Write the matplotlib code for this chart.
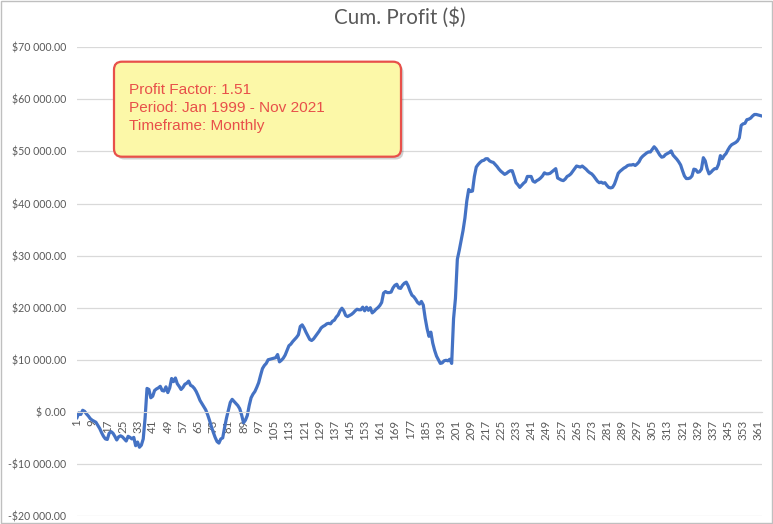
import numpy as np
import matplotlib.pyplot as plt
from matplotlib.patches import FancyBboxPatch, Rectangle
from matplotlib.ticker import FuncFormatter, MultipleLocator

# cumulative profit per trade, in thousands of dollars
cum_profit_k = [
    -1.1, -0.2, -0.5, 0.3, 0.1, -0.4, -0.8, -1.3, -1.6, -1.8,
    -2.0, -2.6, -3.2, -4.0, -4.7, -5.2, -5.3, -4.1, -3.8, -4.1,
    -4.7, -5.4, -4.8, -4.6, -4.8, -5.2, -5.6, -4.7, -4.9, -5.2,
    -4.9, -6.5, -5.8, -6.8, -6.4, -5.2, -1.1, 4.5, 4.3, 2.7,
    3.0, 4.1, 4.4, 4.6, 4.9, 4.1, 4.0, 4.8, 3.7, 4.6,
    6.4, 5.8, 6.5, 5.4, 4.9, 4.3, 4.7, 5.3, 5.5, 5.9,
    5.1, 4.9, 4.5, 3.9, 3.1, 2.2, 1.6, 1.0, 0.4, -0.5,
    -1.6, -2.8, -3.9, -4.9, -5.7, -6.0, -5.2, -5.0, -3.0, -1.2,
    0.3, 1.8, 2.4, 2.0, 1.6, 1.2, 0.6, -0.6, -2.1, -1.6,
    -0.7, 1.2, 2.7, 3.4, 3.9, 4.7, 5.6, 7.0, 8.3, 8.9,
    9.3, 10.0, 10.1, 10.2, 10.3, 10.4, 11.0, 9.6, 9.9, 10.3,
    10.9, 11.8, 12.7, 13.0, 13.5, 13.9, 14.3, 14.8, 16.4, 16.7,
    16.1, 15.3, 14.6, 13.9, 13.7, 14.0, 14.5, 15.0, 15.5, 16.1,
    16.4, 16.6, 16.9, 17.0, 16.9, 17.4, 17.6, 18.2, 18.6, 19.4,
    19.9, 19.4, 18.5, 18.3, 18.5, 18.7, 19.0, 19.4, 19.7, 19.6,
    19.6, 20.1, 19.4, 20.1, 19.5, 20.0, 19.0, 19.3, 19.7, 20.0,
    20.4, 21.0, 22.8, 23.1, 22.9, 22.9, 23.0, 23.8, 24.3, 24.5,
    23.8, 23.7, 24.3, 24.7, 24.9, 24.2, 23.2, 22.4, 22.1, 21.6,
    21.0, 20.7, 21.2, 20.5, 18.0, 16.0, 14.5, 15.3, 13.2, 11.8,
    10.7, 10.0, 9.3, 9.4, 9.8, 9.9, 9.8, 10.1, 9.3, 17.9,
    21.8, 29.3, 31.0, 32.9, 34.8, 37.2, 40.5, 42.7, 42.3, 42.4,
    45.2, 47.0, 47.5, 47.9, 48.2, 48.3, 48.6, 48.6, 48.2, 48.0,
    47.9, 47.5, 47.1, 46.6, 46.2, 45.9, 45.6, 45.8, 46.1, 46.3,
    46.3, 45.2, 44.0, 43.6, 43.1, 43.5, 43.9, 44.2, 45.2, 45.2,
    45.2, 44.3, 44.1, 44.4, 44.6, 44.9, 45.3, 45.9, 45.7, 45.7,
    45.8, 46.1, 46.4, 46.7, 44.9, 44.7, 44.5, 44.4, 44.7, 45.2,
    45.4, 45.7, 46.2, 46.7, 47.2, 47.1, 47.0, 47.2, 46.9, 46.6,
    46.2, 45.9, 45.7, 45.3, 44.8, 44.3, 44.0, 44.1, 43.9, 44.0,
    43.5, 43.1, 43.0, 43.1, 43.7, 44.7, 45.8, 46.2, 46.5, 46.8,
    47.0, 47.3, 47.4, 47.4, 47.5, 47.3, 47.6, 48.0, 48.7, 49.1,
    49.4, 49.7, 49.9, 49.9, 50.4, 50.9, 50.5, 49.9, 49.3, 48.9,
    49.0, 49.4, 49.6, 49.8, 50.1, 49.3, 48.9, 48.5, 48.0, 47.4,
    46.3, 45.3, 44.8, 44.8, 44.9, 45.3, 46.6, 46.5, 46.0, 46.1,
    46.6, 48.8, 48.2, 46.7, 45.7, 46.0, 46.4, 46.7, 46.7, 47.5,
    49.2, 48.6, 49.2, 49.6, 50.3, 50.9, 51.3, 51.5, 51.7, 52.0,
    52.6, 55.0, 55.3, 55.4, 56.1, 56.2, 56.4, 56.8, 57.1, 57.1,
    57.0, 56.9, 56.8,
]
cum_profit = np.array(cum_profit_k) * 1000
trade_no = np.arange(1, len(cum_profit) + 1)

title = "Cum. Profit ($)"
info_lines = ["Profit Factor: 1.51",
              "Period: Jan 1999 - Nov 2021",
              "Timeframe: Monthly"]

W, H = 773, 524
fig = plt.figure(figsize=(W / 100, H / 100), dpi=100)
ax = fig.add_axes([77 / W, 1 - 516 / H, (762 - 77) / W, (516 - 47.3) / H])

ax.plot(trade_no, cum_profit, color="#4472C4", lw=2.3, solid_joinstyle="round")

ax.set_xlim(trade_no[0], trade_no[-1])
ax.set_ylim(-20000, 70000)
ax.yaxis.set_major_locator(MultipleLocator(10000))
ax.set_xticks(trade_no[::8])


def money(v, pos):
    if abs(v) < 1e-6:
        return "$ 0.00"
    s = f"${abs(v):,.2f}".replace(",", " ")
    return "-" + s if v < 0 else s


ax.yaxis.set_major_formatter(FuncFormatter(money))
ax.grid(axis="y", color="#D9D9D9", lw=0.9)
ax.set_axisbelow(True)
for side in ["top", "right", "left"]:
    ax.spines[side].set_visible(False)
ax.spines["bottom"].set_position(("data", 0))
ax.spines["bottom"].set_color("#D9D9D9")
ax.tick_params(axis="both", length=0, colors="#595959")
ax.tick_params(axis="y", pad=8, labelsize=7.6)
ax.tick_params(axis="x", pad=5.5, labelsize=8.3, labelrotation=90)
for lab in ax.get_xticklabels() + ax.get_yticklabels():
    lab.set_fontfamily("Lato")

fig.text(400 / W, 1 - 18 / H, title, ha="center", va="center",
         fontsize=14.8, color="#595959", fontfamily="Lato")

# overlay in pixel units for the note box and chart border
ov = fig.add_axes([0, 0, 1, 1], zorder=5)
ov.set_xlim(0, W)
ov.set_ylim(H, 0)
ov.axis("off")
ov.patch.set_alpha(0)

shadow = FancyBboxPatch((116.5, 64.5), 287, 95, boxstyle="round,pad=0,rounding_size=8",
                        fc="#000000", ec="none", alpha=0.18)
ov.add_patch(shadow)
box = FancyBboxPatch((114, 61.7), 287, 95, boxstyle="round,pad=0,rounding_size=8",
                     fc="#FCF8A8", ec="#E8504A", lw=1.6)
ov.add_patch(box)
ov.text(129, 83, "\n".join(info_lines), ha="left", va="top", fontsize=11.1,
        color="#E8504A", fontfamily="Liberation Sans", linespacing=1.38)

ov.add_patch(Rectangle((1, 0.5), W - 2.5, H - 1.5, fc="none", ec="#BFBFBF", lw=1))

fig.savefig("out.png", dpi=100)
